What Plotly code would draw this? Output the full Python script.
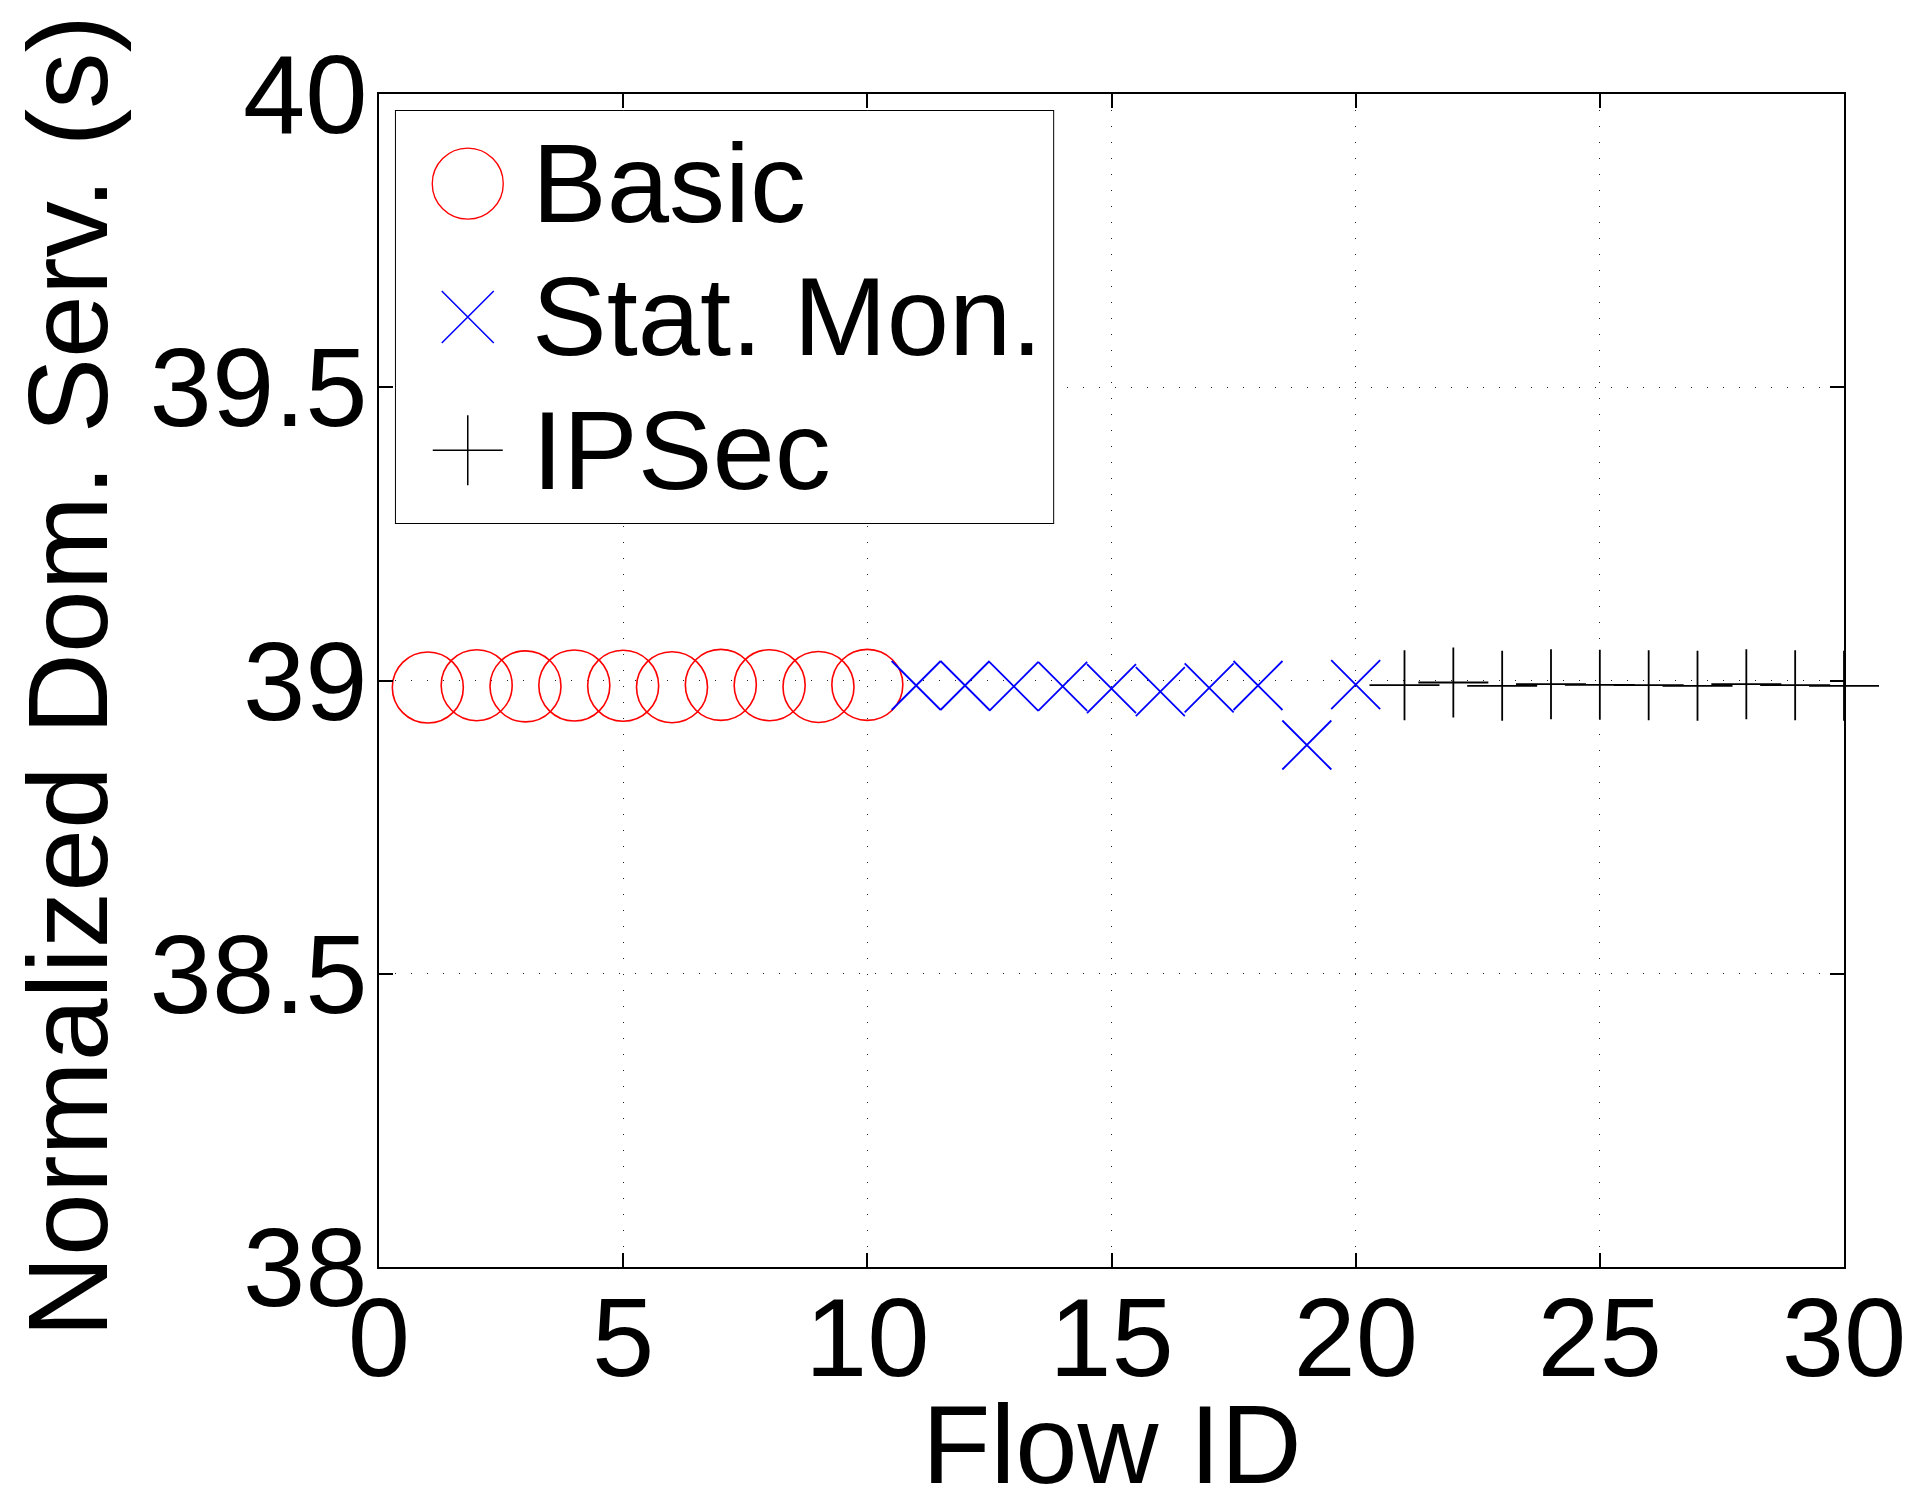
import plotly.graph_objects as go

# ---------------- data ----------------
basic_x = [1, 2, 3, 4, 5, 6, 7, 8, 9, 10]
basic_y = [38.988, 38.992, 38.990, 38.9915, 38.991, 38.9886, 38.9926, 38.992, 38.989, 38.9926]

stat_x = [11, 12, 13, 14, 15, 16, 17, 18, 19, 20]
stat_y = [38.9915, 38.9915, 38.990, 38.990, 38.986, 38.981, 38.9875, 38.9915, 38.890, 38.993]

ipsec_x = [21, 22, 23, 24, 25, 26, 27, 28, 29, 30]
ipsec_y = [38.992, 38.9966, 38.991, 38.9937, 38.9926, 38.992, 38.991, 38.9937, 38.992, 38.991]

series_names = ["Basic", "Stat. Mon.", "IPSec"]

x_tickvals = [0, 5, 10, 15, 20, 25, 30]
x_ticktext = ["0", "5", "10", "15", "20", "25", "30"]
y_tickvals = [38, 38.5, 39, 39.5, 40]
y_ticktext = ["38", "38.5", "39", "39.5", "40"]

x_title = "Flow ID"
y_title = "Normalized Dom. Serv. (s)"

# ---------------- styles ----------------
colors = ["#ff0000", "#0000ff", "#000000"]
symbols = ["circle-open", "x-thin-open", "cross-thin-open"]
sizes = [71, 49, 50]
leg_sizes = [71, 52, 50]
lws = [1.6, 1.8, 1.8]
FONT = "Liberation Sans, Arial, Helvetica, sans-serif"
FS = 112

W, H = 1918, 1488
ML, MR, MT, MB = 379, 70, 94, 221
PW, PH = W - ML - MR, H - MT - MB

fig = go.Figure()

series = [(basic_x, basic_y), (stat_x, stat_y), (ipsec_x, ipsec_y)]
for (xs, ys), name, c, s, sz, lw in zip(series, series_names, colors, symbols, sizes, lws):
    fig.add_trace(go.Scatter(
        x=xs, y=ys, name=name, mode="markers", showlegend=False, cliponaxis=False,
        marker=dict(symbol=s, size=sz, color=c, line=dict(color=c, width=lw)),
    ))

# ---------------- custom legend (own small subplot) ----------------
LB_L, LB_R, LB_T, LB_B = 396, 1055, 111, 523   # legend box in page pixels
lx0 = (LB_L - ML) / PW
lx1 = (LB_R - ML) / PW
ly1 = (H - MB - LB_T) / PH
ly0 = (H - MB - LB_B) / PH
leg_w = LB_R - LB_L
rows = [0, 1, 2]
mark_x = 72
text_x = 134

fig.add_shape(type="rect", xref="x2 domain", yref="y2 domain", x0=0, x1=1, y0=0, y1=1,
              fillcolor="white", line=dict(color="black", width=2), layer="below")

for r, name, c, s, sz, lw in zip(rows, series_names, colors, symbols, leg_sizes, lws):
    fig.add_trace(go.Scatter(
        x=[mark_x], y=[r], xaxis="x2", yaxis="y2", mode="markers", showlegend=False,
        cliponaxis=False, hoverinfo="skip",
        marker=dict(symbol=s, size=sz, color=c, line=dict(color=c, width=lw * 0.85)),
    ))
    fig.add_annotation(x=text_x, y=r, xref="x2", yref="y2", text=name, showarrow=False,
                       xanchor="left", yanchor="middle",
                       font=dict(family=FONT, size=FS, color="black"))

# ---------------- axis titles ----------------
fig.add_annotation(x=0.5, y=0, xref="paper", yref="paper", text=x_title, showarrow=False,
                   xanchor="center", yanchor="middle", yshift=-177,
                   font=dict(family=FONT, size=FS, color="black"))
fig.add_annotation(x=0, y=0.5, xref="paper", yref="paper", text=y_title, showarrow=False,
                   textangle=-90, xanchor="center", yanchor="middle", xshift=-312, yshift=4,
                   font=dict(family=FONT, size=FS + 1, color="black"))

axis_common = dict(
    ticks="inside", ticklen=14, tickwidth=1.5, tickcolor="black",
    showline=True, linecolor="black", linewidth=2, mirror="ticks",
    showgrid=True, gridcolor="#222222", gridwidth=1, griddash="1px,15px",
    zeroline=False, tickfont=dict(family=FONT, size=FS, color="black"),
)

fig.update_layout(
    width=W, height=H,
    margin=dict(l=ML, r=MR, t=MT, b=MB, pad=0),
    paper_bgcolor="white", plot_bgcolor="white",
    font=dict(family=FONT, size=FS, color="black"),
    xaxis=dict(range=[0, 30], tickmode="array", tickvals=x_tickvals, ticktext=x_ticktext,
               ticklabelstandoff=-27, **axis_common),
    yaxis=dict(range=[38, 40], tickmode="array", tickvals=y_tickvals, ticktext=y_ticktext,
               ticklabelstandoff=-13, **axis_common),
    xaxis2=dict(domain=[lx0, lx1], range=[0, leg_w], anchor="y2", visible=False, fixedrange=True),
    yaxis2=dict(domain=[ly0, ly1], range=[2.545, -0.545], anchor="x2", visible=False, fixedrange=True),
    showlegend=False,
)

fig.write_html("out.html", config={"displayModeBar": False},
               post_script="document.body.style.margin='0';document.body.style.overflow='hidden';")
